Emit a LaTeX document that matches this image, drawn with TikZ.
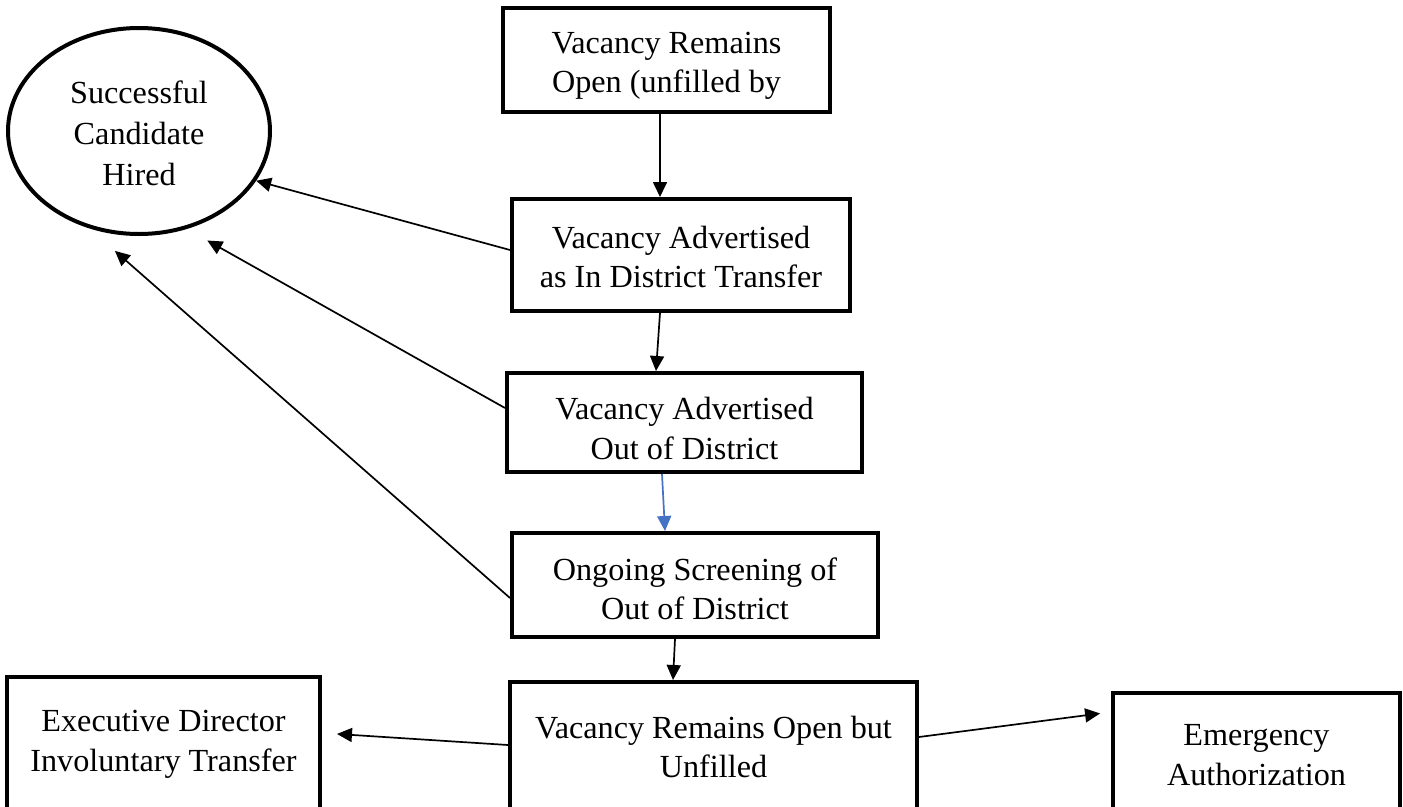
\documentclass[tikz,border=0pt]{standalone}
\usepackage{fontspec}
\setmainfont{Liberation Serif}
\usetikzlibrary{arrows.meta,shapes.geometric}
\definecolor{arrowblue}{RGB}{68,114,196}
\begin{document}
\begin{tikzpicture}[x=1pt,y=-1pt,
  box/.style={draw,line width=4pt,inner sep=0pt},
  txt/.style={align=center,inner sep=0pt,font=\fontsize{32.2}{39.5}\selectfont},
  arr/.style={line width=1.7pt,-{Triangle[length=15pt,width=14pt]}},
]
\useasboundingbox (0,0) rectangle (1403,806);
\clip (0,0) rectangle (1403,806);

\node[box,ellipse,minimum width=262pt,minimum height=206pt,
  label={[txt,font=\fontsize{32.2}{41}\selectfont,yshift=-2pt]center:Successful\\Candidate\\Hired}] (hire) at (139,131) {};
\node[box,minimum width=327pt,minimum height=104pt,
  label={[txt,yshift=-6pt]center:Vacancy Remains\\Open (unfilled by}] (b1) at (666.5,60) {};
\node[box,minimum width=338pt,minimum height=112pt,
  label={[txt,yshift=-2pt]center:Vacancy Advertised\\as In District Transfer}] (b2) at (681,255) {};
\node[box,minimum width=355pt,minimum height=99pt,
  label={[txt,yshift=-6pt]center:Vacancy Advertised\\Out of District}] (b3) at (684.5,422.5) {};
\node[box,minimum width=366pt,minimum height=104pt,
  label={[txt,yshift=-4pt]center:Ongoing Screening of\\Out of District}] (b4) at (695,585) {};
\node[box,minimum width=407pt,minimum height=130pt,
  label={[txt]center:Vacancy Remains Open but\\Unfilled}] (b5) at (713.5,747) {};
\node[box,minimum width=313pt,minimum height=135pt,
  label={[txt]center:Executive Director\\Involuntary Transfer}] (b6) at (163.5,744.5) {};
\node[box,minimum width=287pt,minimum height=124pt,
  label={[txt]center:Emergency\\Authorization}] (b7) at (1256.5,755) {};

\draw[arr] ([xshift=-6.5pt]b1.south) -- ([xshift=-21pt]b2.north);
\draw[arr] ([xshift=-21pt]b2.south) -- ([xshift=-28.5pt]b3.north);
\draw[arr,draw=arrowblue,fill=arrowblue] ([xshift=-22.5pt]b3.south) -- ([xshift=-30pt]b4.north);
\draw[arr] ([xshift=-20pt]b4.south) -- ([xshift=-40.5pt]b5.north);

\draw[arr] ([yshift=5pt]b2.west) -- (hire.-23);
\draw[arr,shorten >=23.5pt] ([yshift=14.5pt]b3.west) -- (hire.-64.8);
\draw[arr,shorten >=34pt] ([yshift=-13pt]b4.west) -- (hire.-117.5);

\draw[arr,shorten >=15pt] ([yshift=2pt]b5.west) -- ([yshift=11.5pt]b6.east);
\draw[arr,shorten >=11pt] ([yshift=10pt]b5.east) -- ([yshift=43pt]b7.west);
\end{tikzpicture}
\end{document}
